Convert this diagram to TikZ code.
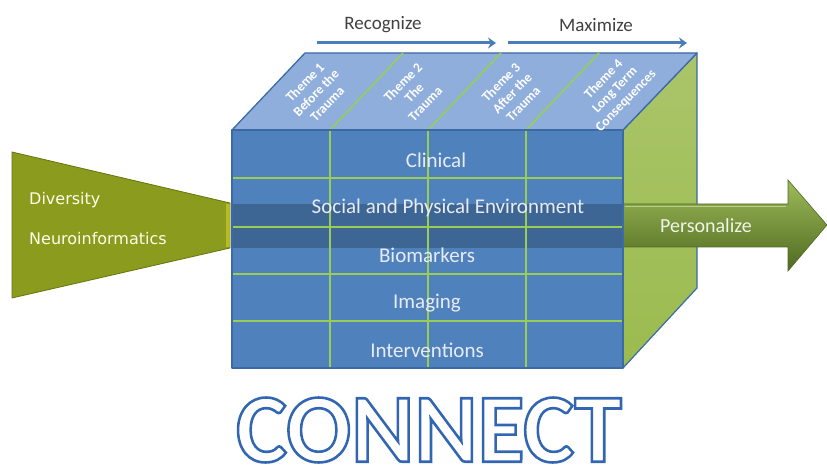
\documentclass[tikz,border=0pt]{standalone}
\usepackage{fontspec}
\setmainfont{Carlito}
\newfontfamily\dejavu{DejaVu Sans}
\usetikzlibrary{arrows.meta,calc}
\definecolor{faceblue}{HTML}{4F81BD}
\definecolor{topblue}{HTML}{8FAEDC}
\definecolor{edgeblue}{HTML}{3B6AA6}
\definecolor{gridgreen}{HTML}{9ACD55}
\definecolor{sidegreen}{HTML}{9BBB4F}
\definecolor{olive}{HTML}{8A9B1E}
\definecolor{olivedark}{HTML}{66750F}
\definecolor{arrowgreen}{HTML}{76923C}
\definecolor{arrowdark}{HTML}{4F6A22}
\definecolor{arrowlight}{HTML}{9DBB5C}
\definecolor{arrowblue}{HTML}{4A7EBB}
\definecolor{rowtext}{HTML}{E8ECF2}
\begin{document}
\begin{tikzpicture}[x=1pt,y=-1pt,
  rowlbl/.style={text=rowtext, font=\fontsize{21}{21}\selectfont, inner sep=0pt},
  themelbl/.style={text=white, font=\bfseries\fontsize{13.5}{15.5}\selectfont, align=center, rotate=46, inner sep=0pt},
  gridln/.style={draw=gridgreen, line width=2pt},
  boxedge/.style={draw=edgeblue, line width=1.3pt, line join=round},
  flowarrow/.style={draw=arrowblue, line width=3pt, -{Stealth[length=8pt,width=11pt]}},
  toplbl/.style={text=black!75, font=\fontsize{19}{19}\selectfont, inner sep=0pt},
  sidelbl/.style={text=white!92!yellow, font=\dejavu\fontsize{16}{16}\selectfont, inner sep=0pt, anchor=west}]
\useasboundingbox (0,0) rectangle (827,470);

% box corners
\coordinate (A) at (232,130);
\coordinate (B) at (623,130);
\coordinate (C) at (623,368);
\coordinate (D) at (232,368);
\coordinate (A2) at (305,53);
\coordinate (B2) at (697,53);
\coordinate (C2) at (697,288);

% left trapezoid
\path[fill=olive, draw=olivedark, line width=0.8pt] (12,152) -- (230,203) -- (230,248) -- (12,298) -- cycle;
\fill[yellow!60!olive, opacity=0.6] (226,204) rectangle (230,247);
\node[sidelbl] (div) at (29,200) {Diversity};
\node[sidelbl] (neuro) at (29,239) {Neuroinformatics};

% right face
\path[top color=sidegreen!85!white, bottom color=sidegreen, draw=edgeblue, line width=1.2pt, line join=round] (B) -- (B2) -- (C2) -- (C) -- cycle;

% personalize arrow
\path[top color=arrowlight, bottom color=arrowdark, middle color=arrowgreen, draw=arrowdark, line width=0.6pt, line join=miter]
  (623,204) -- (788,204) -- (788,180) -- (827,225) -- (788,271) -- (788,247) -- (623,247) -- cycle;
\draw[arrowlight!70!white, line width=1.5pt] (625,206.5) -- (786,206.5);
\node[text=white!85!arrowlight, font=\fontsize{20}{20}\selectfont, inner sep=0pt] (pers) at (706,226) {Personalize};

% top face
\path[fill=topblue, boxedge] (A) -- (B) -- (B2) -- (A2) -- cycle;
\foreach \x in {330,428,526} {
  \draw[gridln, line width=1.6pt] (\x,130) -- ++(73,-77);
}

% front face
\fill[faceblue] (A) rectangle (C);
\fill[black!60!faceblue, opacity=0.35] (232,204) rectangle (623,248);
\foreach \y in {178,227,274,321} {
  \draw[gridln] (233,\y) -- (622,\y);
}
\foreach \x in {330,428,526} {
  \draw[gridln] (\x,131) -- (\x,367);
}
\draw[boxedge] (A) rectangle (C);

% row labels
\node[rowlbl] (clin) at (436,160) {Clinical};
\node[rowlbl] (soc) at (448,208) {Social and Physical Environment};
\node[rowlbl] (bio) at (427,255) {Biomarkers};
\node[rowlbl] (img) at (427,303) {Imaging};
\node[rowlbl] (int) at (427,350) {Interventions};

% theme labels
\node[themelbl] (t1) at (316,93) {Theme 1\\Before the\\Trauma};
\node[themelbl] (t2) at (414,93) {Theme 2\\The\\Trauma};
\node[themelbl] (t3) at (512,93) {Theme 3\\After the\\Trauma};
\node[themelbl] (t4) at (615,90) {Theme 4\\Long Term\\Consequences};

% recognize / maximize
\coordinate (r1) at (317,43);
\coordinate (r2) at (496,43);
\coordinate (m1) at (508,43);
\coordinate (m2) at (687,43);
\draw[flowarrow] (r1) -- (r2);
\draw[flowarrow] (m1) -- (m2);
\node[toplbl] (rec) at (383,25) {Recognize};
\node[toplbl] (max) at (596,25) {Maximize};

% CONNECT (outlined text)
\node[inner sep=0pt, text=white, font=\bfseries\fontsize{98}{98}\selectfont, xscale=0.98] (conn) at (429,430)
  {\special{pdf:literal direct 1 Tr 2.6 w 0.20 0.40 0.70 RG}CONNECT\special{pdf:literal direct 0 Tr}};
\end{tikzpicture}
\end{document}
